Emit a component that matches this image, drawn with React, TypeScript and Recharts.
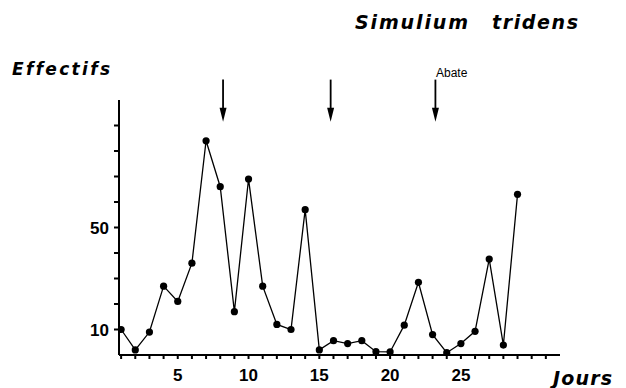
import React from 'react';
import { LineChart, Line, XAxis, YAxis, ReferenceLine } from 'recharts';

// daily counts
const days = [1, 2, 3, 4, 5, 6, 7, 8, 9, 10, 11, 12, 13, 14, 15, 16, 17, 18, 19, 20, 21, 22, 23, 24, 25, 26, 27, 28, 29];
const counts = [10, 2, 9, 27, 21, 36, 84, 66, 17, 69, 27, 12, 10, 57, 2, 5.6, 4.5, 5.6, 1.3, 1.2, 11.7, 28.5, 8, 0.9, 4.5, 9.3, 37.6, 3.9, 63];

const xTicks = [1, 2, 3, 4, 5, 6, 7, 8, 9, 10, 11, 12, 13, 14, 15, 16, 17, 18, 19, 20, 21, 22, 23, 24, 25, 26, 27, 28, 29, 30, 31];
const xLabels = [5, 10, 15, 20, 25];
const yTicks = [10, 20, 30, 40, 50, 60, 70, 80, 90];
const yLabels = [10, 50];

// treatment arrows (days), the last one is labelled
const arrowDays = [8.2, 15.8, 23.2];
const arrowTop = 108;
const arrowTip = 91.5;

const data = days.map((d, i) => ({ day: d, n: counts[i] }));

const font = '"Liberation Sans", Arial, sans-serif';
const heavy = '"DejaVu Sans", "Liberation Sans", sans-serif';
const noLig = { fontVariantLigatures: 'none' as const };

const XTick = ({ x, y, payload }: any) => (
  <text x={x} y={y + 20} textAnchor="middle" fontFamily={font} fontWeight="bold" fontSize={17} fill="#000">
    {xLabels.includes(payload.value) ? payload.value : ''}
  </text>
);

const YTick = ({ x, y, payload }: any) => (
  <text x={x - 3} y={y + 6} textAnchor="end" fontFamily={font} fontWeight="bold" fontSize={17} fill="#000">
    {yLabels.includes(payload.value) ? payload.value : ''}
  </text>
);

const Arrow = (p: any) => {
  const x = p.x1;
  const top = Math.min(p.y1, p.y2);
  const tip = Math.max(p.y1, p.y2);
  return (
    <g>
      <line x1={x} x2={x} y1={top} y2={tip - 10} stroke="#000" strokeWidth={1.8} />
      <polygon points={`${x - 3.5},${tip - 14} ${x + 3.5},${tip - 14} ${x},${tip}`} fill="#000" />
    </g>
  );
};

export default function App() {
  return (
    <div style={{ position: 'absolute', left: 0, top: 0, width: 626, height: 388, background: '#fff' }}>
      <LineChart width={626} height={388} data={data} margin={{ top: 100, right: 66, left: 79, bottom: 3 }}>
        <XAxis
          dataKey="day"
          type="number"
          domain={[0.85, 32]}
          ticks={xTicks}
          interval={0}
          tickSize={4}
          height={30}
          stroke="#000"
          strokeWidth={2}
          tick={<XTick />}
          allowDataOverflow
        />
        <YAxis
          type="number"
          domain={[0, 100]}
          ticks={yTicks}
          interval={0}
          tickSize={5}
          width={40}
          stroke="#000"
          strokeWidth={2}
          tick={<YTick />}
          allowDataOverflow
        />
        {arrowDays.map((d, i) => (
          <ReferenceLine
            key={i}
            segment={[{ x: d, y: arrowTop }, { x: d, y: arrowTip }]}
            ifOverflow="visible"
            shape={<Arrow />}
          />
        ))}
        <Line
          type="linear"
          dataKey="n"
          stroke="#000"
          strokeWidth={1.3}
          dot={{ r: 3.6, fill: '#000', stroke: '#000', strokeWidth: 0 }}
          isAnimationActive={false}
        />
      </LineChart>
      <svg width={626} height={388} style={{ position: 'absolute', left: 0, top: 0, pointerEvents: 'none' }}>
        <text x={355} y={29} fontFamily={heavy} fontWeight="bold" fontStyle="italic" fontSize={19} textLength={113} lengthAdjust="spacing" fill="#000">
          Simulium
        </text>
        <text x={492} y={29} fontFamily={heavy} fontWeight="bold" fontStyle="italic" fontSize={19} textLength={86} lengthAdjust="spacing" fill="#000">
          tridens
        </text>
        <text x={12} y={75} fontFamily={heavy} fontWeight="bold" fontStyle="italic" fontSize={17} textLength={98} lengthAdjust="spacing" fill="#000" style={noLig}>
          Effectifs
        </text>
        <text x={436} y={77} fontFamily={font} fontSize={12} fill="#000">
          Abate
        </text>
        <text x={553} y={385} fontFamily={heavy} fontWeight="bold" fontStyle="italic" fontSize={19} textLength={59} lengthAdjust="spacing" fill="#000">
          Jours
        </text>
      </svg>
    </div>
  );
}
